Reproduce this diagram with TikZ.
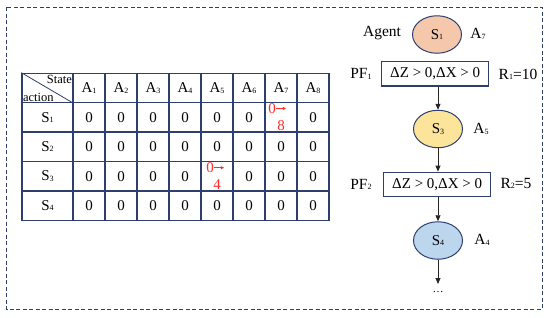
\documentclass[tikz,border=0pt]{standalone}
\usepackage{fontspec}
\setmainfont{Liberation Serif}
\usetikzlibrary{arrows.meta,positioning,shapes.geometric}
\definecolor{navy}{HTML}{2E3F6E}
\definecolor{peach}{HTML}{F6C8AB}
\definecolor{sand}{HTML}{FCE49A}
\definecolor{sky}{HTML}{BCD6EE}
\definecolor{qred}{HTML}{FF2A2A}
\newcommand{\idx}[1]{\raisebox{-0.3pt}{\fontsize{8}{8}\selectfont #1}}
\tikzset{cell/.style={draw=navy,line width=1.3pt,minimum width=32pt,minimum height=29.4pt,inner sep=0pt,font=\fontsize{15}{15}\selectfont},
head/.style={cell,minimum width=51pt},
state/.style={ellipse,draw=navy,line width=1pt,minimum width=49pt,minimum height=37.5pt,inner sep=0pt,font=\fontsize{15}{15}\selectfont},
cond/.style={draw=navy,line width=1.3pt,minimum width=107pt,minimum height=24.5pt,inner sep=0pt,font=\fontsize{15}{15}\selectfont},
lbl/.style={inner sep=0pt,font=\fontsize{15.5}{15.5}\selectfont},
qval/.style={inner sep=0pt,text=qred,font=\fontsize{15}{15}\selectfont},
arr/.style={-{Triangle[length=6pt,width=5pt]},line width=0.8pt,black!85},
qarr/.style={-{Triangle[length=3pt,width=3pt]},line width=0.7pt,qred}}

\begin{document}
\begin{tikzpicture}[x=1pt,y=-1pt]
\useasboundingbox (0,0) rectangle (550,317);
\draw[navy,line width=0.9pt,dash pattern=on 4pt off 2.5pt] (6.5,7) rectangle (542,309);
% Q table
\node[head] (corner) at (47.5,88) {};
\draw[navy,line width=0.8pt] (corner.north west) -- (corner.south east);
\node[inner sep=1.5pt,anchor=north east,font=\fontsize{12.5}{12.5}\selectfont] (st) at ([yshift=-1pt]corner.north east) {State};
\node[inner sep=1.5pt,anchor=south west,font=\fontsize{12.5}{12.5}\selectfont] (ac) at (corner.south west) {action};
\foreach \c in {1,...,8}
  \node[cell] (a-\c) at ({57+32*\c},88) {A\idx{\c}};
\foreach \r in {1,...,4} {
  \node[head] (s-\r) at (47.5,{88+29.4*\r}) {S\idx{\r}};
  \foreach \c in {1,...,8}
    \node[cell] (q-\r-\c) at ({57+32*\c},{88+29.4*\r}) {\ifnum\r\c=17 \else\ifnum\r\c=35 \else 0\fi\fi};
}
% updated values
\node[qval] (old-1) at ([xshift=-9pt,yshift=9pt]q-1-7.center) {0};
\coordinate (to-1) at ([xshift=10pt]old-1.east);
\draw[qarr] (old-1) -- (to-1);
\node[qval] (new-1) at ([yshift=-8.5pt]q-1-7.center) {8};
\node[qval] (old-3) at ([xshift=-7pt,yshift=8.5pt]q-3-5.center) {0};
\coordinate (to-3) at ([xshift=10pt]old-3.east);
\draw[qarr] (old-3) -- (to-3);
\node[qval] (new-3) at ([yshift=-8pt]q-3-5.center) {4};
% agent path
\node[state,fill=peach] (s1) at (437,34.5) {S\idx{1}};
\node[lbl] (agent) at (382,33.5) {Agent};
\node[lbl] (act1) at (478,34) {A\idx{7}};
\node[cond] (pf1) at (435.2,73.8) {ΔZ > 0,ΔX > 0};
\node[lbl] (pf1l) at (361,74) {PF\idx{1}};
\node[lbl] (rw1) at (518,74) {R\idx{1}=10};
\node[state,fill=sand] (s3) at (438,129) {S\idx{3}};
\node[lbl] (act3) at (481,129) {A\idx{5}};
\node[cond] (pf2) at (437.2,184.5) {ΔZ > 0,ΔX > 0};
\node[lbl] (pf2l) at (361,184.5) {PF\idx{2}};
\node[lbl] (rw2) at (516,183.5) {R\idx{2}=5};
\node[state,fill=sky] (s4) at (438,240.5) {S\idx{4}};
\node[lbl] (act4) at (482,240) {A\idx{4}};
\coordinate (tail) at (438,284);
\node[inner sep=0pt,font=\fontsize{11}{11}\selectfont] (more) at (438,292) {…};
\draw[arr] (pf1.south -| s3.north) -- (s3.north);
\draw[arr] (s3) -- (pf2.north -| s3.south);
\draw[arr] (pf2.south -| s4.north) -- (s4.north);
\draw[arr] (s4) -- (tail);
\end{tikzpicture}
\end{document}
